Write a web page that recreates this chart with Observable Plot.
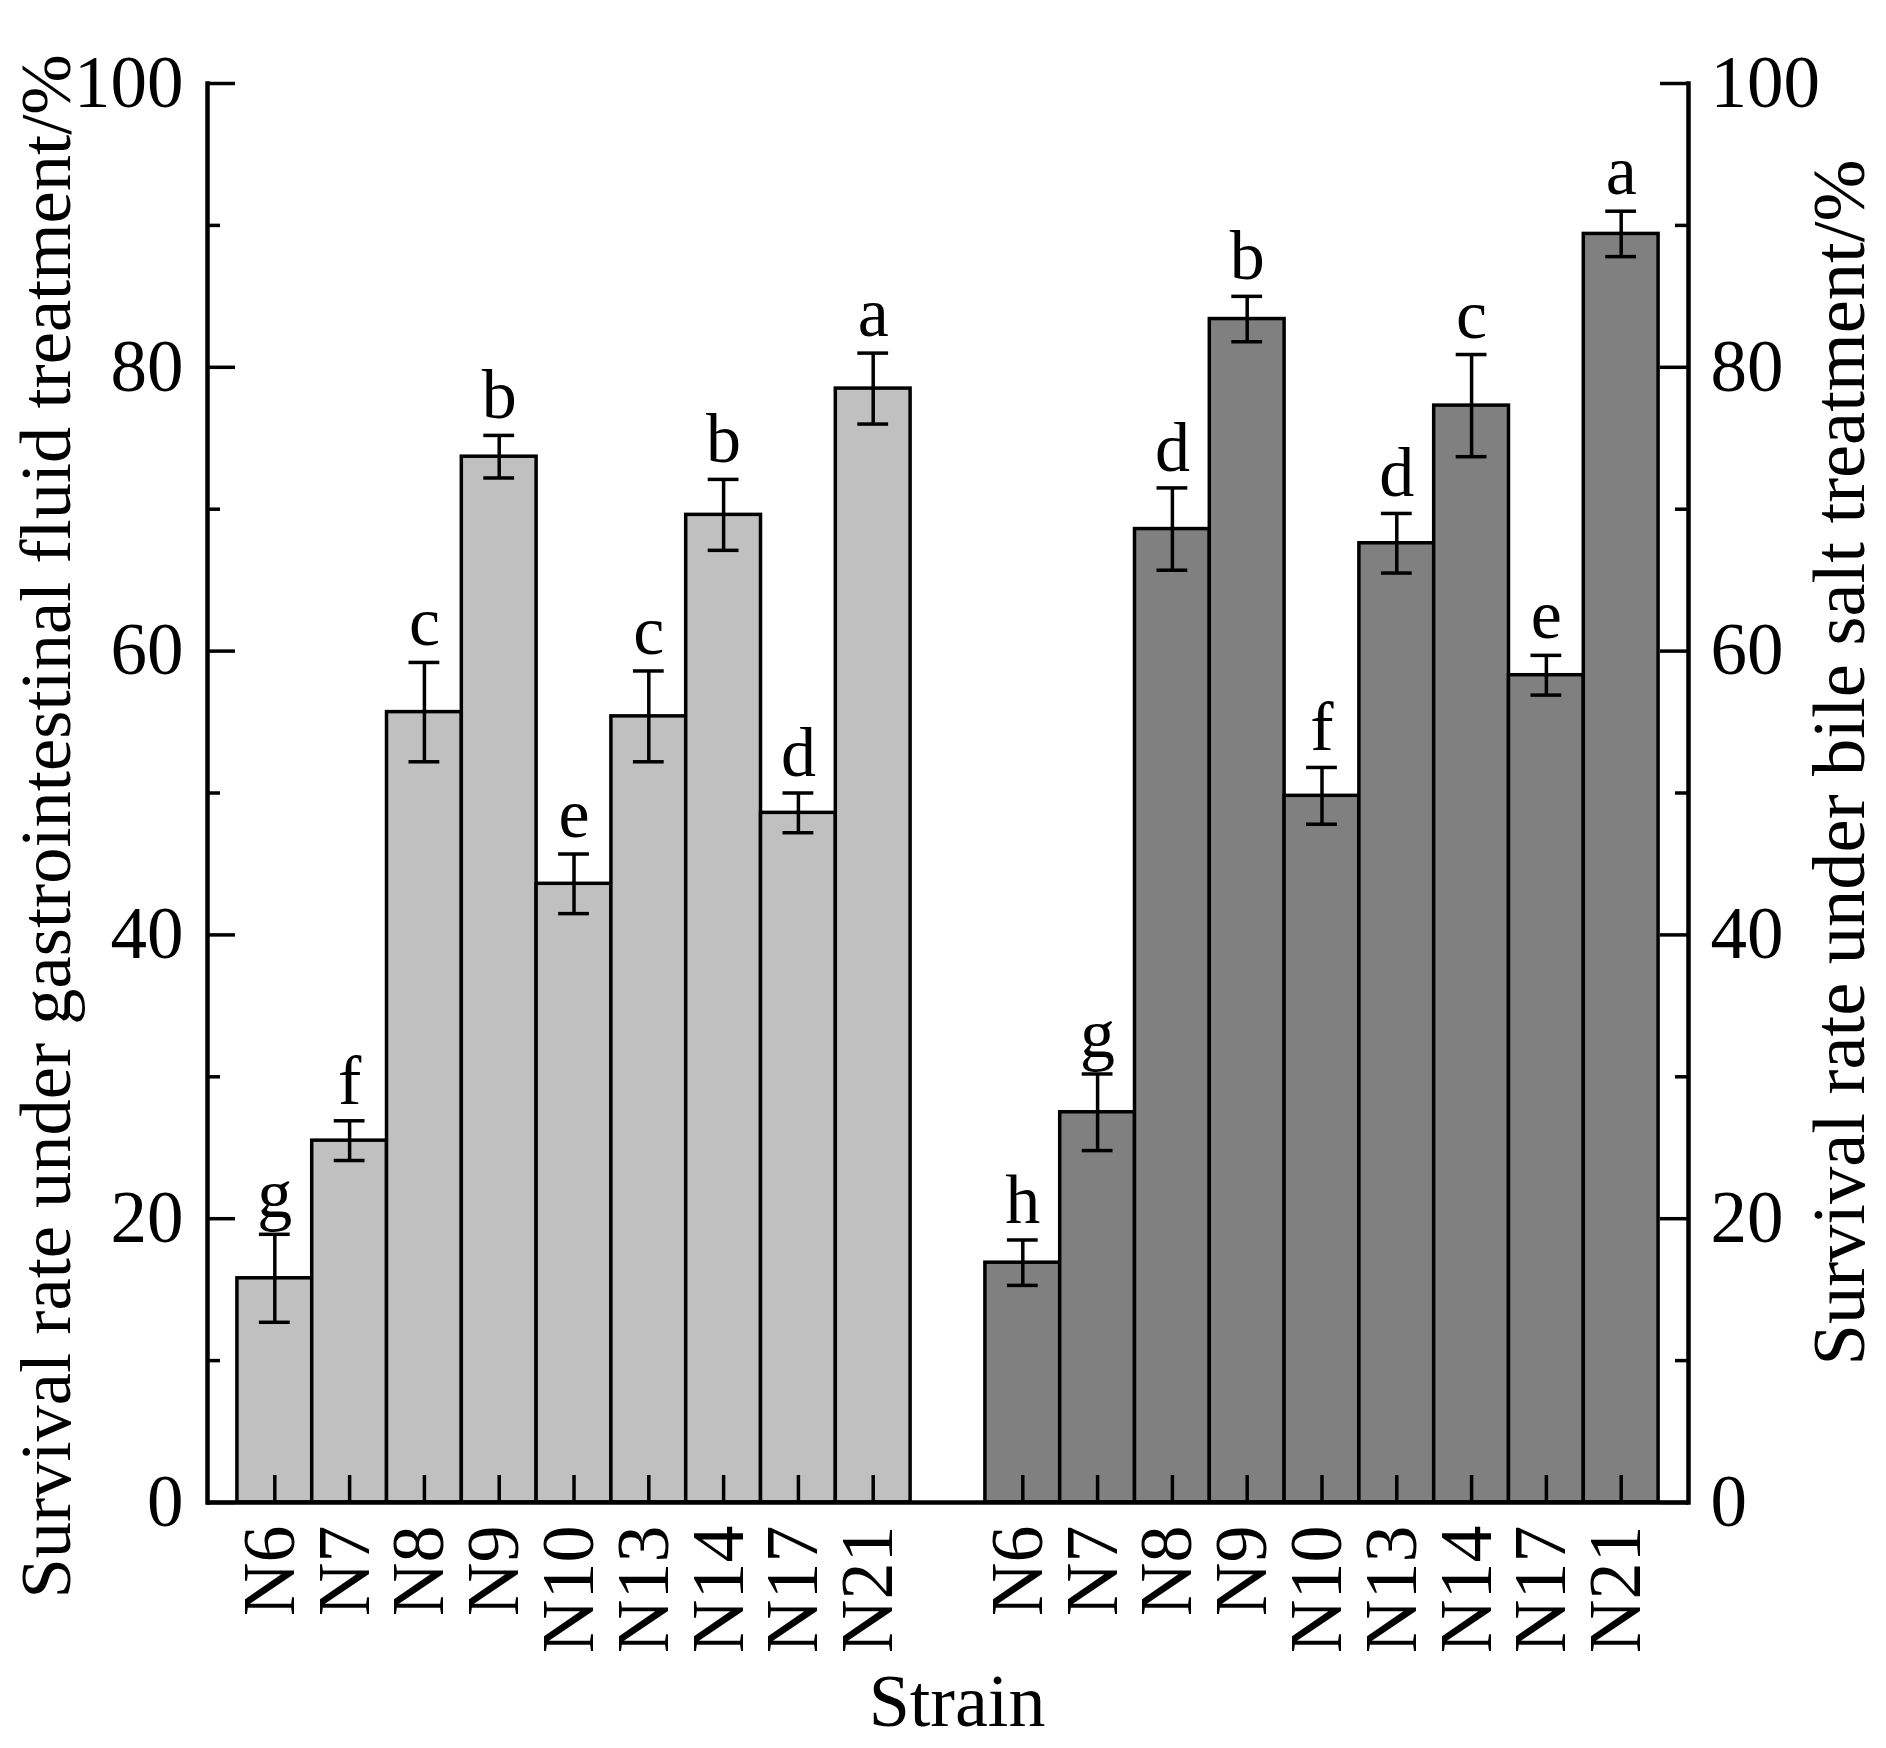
<!DOCTYPE html>
<html>
<head>
<meta charset="utf-8">
<script src="https://cdn.jsdelivr.net/npm/d3@7"></script>
<script src="https://cdn.jsdelivr.net/npm/@observablehq/plot@0.6"></script>
<style>
  html, body { margin: 0; padding: 0; background: #fff; }
  #chart svg { display: block; }
</style>
</head>
<body>
<div id="chart"></div>
<script>
// ---- Data ----
const strains = ["N6", "N7", "N8", "N9", "N10", "N13", "N14", "N17", "N21"];
const gastroMean = [15.8, 25.5, 55.7, 73.7, 43.6, 55.4, 69.6, 48.6, 78.5];
const gastroErr = [3.1, 1.4, 3.5, 1.5, 2.1, 3.2, 2.5, 1.4, 2.5];
const gastroLetters = ["g", "f", "c", "b", "e", "c", "b", "d", "a"];
const bileMean = [16.9, 27.5, 68.6, 83.4, 49.8, 67.6, 77.3, 58.3, 89.4];
const bileErr = [1.6, 2.7, 2.9, 1.6, 2.0, 2.1, 3.6, 1.4, 1.6];
const bileLetters = ["h", "g", "d", "b", "f", "d", "c", "e", "a"];
const yMajorTicks = [0, 20, 40, 60, 80, 100];
const yMinorTicks = [10, 30, 50, 70, 90];
const xLabel = "Strain";
const yLabelLeft = "Survival rate under gastrointestinal fluid treatment/%";
const yLabelRight = "Survival rate under bile salt treatment/%";

// ---- Build tables ----
const gastroRows = strains.map((s, i) => ({
  key: "G-" + s, strain: s, group: "gastro",
  value: gastroMean[i], lo: gastroMean[i] - gastroErr[i], hi: gastroMean[i] + gastroErr[i],
  letter: gastroLetters[i]
}));
const bileRows = strains.map((s, i) => ({
  key: "B-" + s, strain: s, group: "bile",
  value: bileMean[i], lo: bileMean[i] - bileErr[i], hi: bileMean[i] + bileErr[i],
  letter: bileLetters[i]
}));
const rows = [...gastroRows, ...bileRows];
const domain = [...gastroRows.map(d => d.key), "gap", ...bileRows.map(d => d.key)];

// ---- Layout ----
const W = 1886, H = 1748;
const mL = 207, mR = 198, mT = 83, mB = 246;
const plotW = W - mL - mR;
const plotH = H - mT - mB;
const font = "'Liberation Serif', 'Times New Roman', serif";

const chart = Plot.plot({
  width: W,
  height: H,
  marginLeft: mL,
  marginRight: mR,
  marginTop: mT,
  marginBottom: mB,
  style: {fontFamily: font, fontSize: "72px", background: "#fff", color: "#000"},
  x: {type: "band", domain, paddingInner: 0, paddingOuter: 0.4, round: false, axis: null},
  y: {domain: [0, 100], axis: null},
  color: {domain: ["gastro", "bile"], range: ["#c0c0c0", "#808080"]},
  marks: [
    // bars
    Plot.barY(rows, {x: "key", y: "value", fill: "group", stroke: "#000", strokeWidth: 3.5}),
    // error bars
    Plot.ruleX(rows, {x: "key", y1: "lo", y2: "hi", stroke: "#000", strokeWidth: 3.5}),
    Plot.tickY(rows, {x: "key", y: "hi", stroke: "#000", strokeWidth: 3.5, inset: 22}),
    Plot.tickY(rows, {x: "key", y: "lo", stroke: "#000", strokeWidth: 3.5, inset: 22}),
    // significance letters
    Plot.text(rows, {x: "key", y: "hi", text: "letter", lineAnchor: "bottom", dy: -17,
      fontSize: 70, fill: "#000"}),
    // inward x ticks at bar centres
    Plot.ruleX(rows, {x: "key", insetTop: plotH - 27, stroke: "#000", strokeWidth: 3.5}),
    // inward y ticks, left
    Plot.ruleY(yMajorTicks, {y: d => d, insetRight: plotW - 28, stroke: "#000", strokeWidth: 3.5}),
    Plot.ruleY(yMinorTicks, {y: d => d, insetRight: plotW - 13, stroke: "#000", strokeWidth: 3.5}),
    // inward y ticks, right
    Plot.ruleY(yMajorTicks, {y: d => d, insetLeft: plotW - 28, stroke: "#000", strokeWidth: 3.5}),
    Plot.ruleY(yMinorTicks, {y: d => d, insetLeft: plotW - 13, stroke: "#000", strokeWidth: 3.5}),
    // axis lines
    Plot.frame({anchor: "left", stroke: "#000", strokeWidth: 4.5}),
    Plot.frame({anchor: "right", stroke: "#000", strokeWidth: 4.5}),
    Plot.ruleY([0], {stroke: "#000", strokeWidth: 4.5}),
    // y tick labels
    Plot.text(yMajorTicks, {y: d => d, text: d => String(d), frameAnchor: "left",
      textAnchor: "end", dx: -24, fontSize: 73, fill: "#000"}),
    Plot.text(yMajorTicks, {y: d => d, text: d => String(d), frameAnchor: "right",
      textAnchor: "start", dx: 22, fontSize: 73, fill: "#000"}),
    // x tick labels (rotated)
    Plot.text(rows, {x: "key", text: "strain", frameAnchor: "bottom", rotate: -90,
      textAnchor: "end", lineAnchor: "bottom", dx: 19, dy: 23, fontSize: 74, fill: "#000"}),
    // axis titles
    Plot.text([xLabel], {text: d => d, frameAnchor: "bottom", lineAnchor: "bottom",
      dx: 9, dy: 223, fontSize: 74, fill: "#000"}),
    Plot.text([yLabelLeft], {text: d => d, frameAnchor: "bottom-left", rotate: -90,
      textAnchor: "start", lineAnchor: "bottom", dx: 69 - mL, dy: 1598 - (H - mB),
      fontSize: 72.5, fill: "#000"}),
    Plot.text([yLabelRight], {text: d => d, frameAnchor: "bottom-right", rotate: -90,
      textAnchor: "start", lineAnchor: "bottom", dx: 1863 - (W - mR), dy: 1365 - (H - mB),
      fontSize: 74.5, fill: "#000"})
  ]
});

document.getElementById("chart").appendChild(chart);
</script>
</body>
</html>
